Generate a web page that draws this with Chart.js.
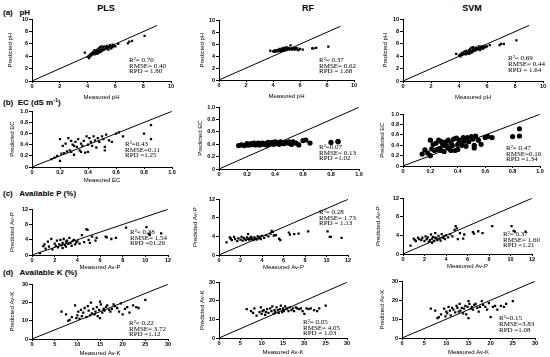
<!DOCTYPE html>
<html>
<head>
<meta charset="utf-8">
<script src="https://cdn.jsdelivr.net/npm/chart.js@4.4.0/dist/chart.umd.min.js"></script>
<style>
  body { margin: 0; width: 550px; height: 357px; background: #fff; position: relative; overflow: hidden; font-family: "Liberation Sans", Arial, sans-serif; }
  canvas { position: absolute; }
  .t { position: absolute; white-space: nowrap; color: #000; }
  .col { font-weight: bold; font-size: 9px; transform: translate(-50%, -50%); }
  .row { font-weight: bold; font-size: 8px; transform: translateY(-50%); }
  .st { font-family: "Liberation Serif", "Times New Roman", serif; font-size: 7px; line-height: 7px; transform: translateY(-50%); }
</style>
</head>
<body>
<script>
// measured values (same samples for every model in a row)
const measuredPH = [3.8, 4.0, 4.1, 4.1, 4.2, 4.2, 4.3, 4.3, 4.4, 4.4, 4.5, 4.5, 4.5, 4.6, 4.6, 4.7, 4.7, 4.7, 4.8, 4.8, 4.8, 4.9, 4.9, 4.9, 5.0, 5.0, 5.0, 5.1, 5.1, 5.2, 5.2, 5.3, 5.3, 5.4, 5.4, 5.5, 5.5, 5.6, 5.6, 5.7, 5.7, 5.8, 5.8, 5.9, 6.0, 6.2, 6.9, 7.0, 7.2, 8.1]
const plsPH = [4.6, 3.9, 3.7, 4.1, 4.0, 4.3, 4.2, 4.5, 4.4, 4.7, 4.6, 4.3, 5.0, 4.8, 4.5, 5.1, 4.7, 4.4, 5.3, 4.9, 4.6, 5.5, 5.0, 4.7, 5.2, 4.8, 5.6, 5.0, 5.4, 5.1, 5.6, 5.2, 5.5, 5.3, 5.7, 5.1, 5.5, 5.4, 5.8, 5.3, 5.6, 5.5, 5.9, 5.7, 5.6, 6.0, 6.1, 6.4, 6.5, 7.3]
const rfPH = [4.9, 4.8, 4.7, 4.9, 4.8, 5.0, 4.9, 4.8, 5.1, 4.9, 5.0, 4.8, 5.2, 4.9, 5.1, 5.0, 5.3, 4.9, 5.1, 5.4, 4.9, 5.2, 5.0, 5.3, 5.1, 5.5, 5.0, 5.2, 5.3, 5.1, 5.4, 5.2, 5.8, 5.1, 5.3, 5.2, 5.4, 5.1, 5.3, 5.2, 5.4, 5.1, 5.3, 5.0, 5.2, 5.1, 5.3, 5.3, 5.4, 5.6]
const svmPH = [4.4, 4.1, 4.0, 4.3, 4.2, 4.5, 4.3, 4.6, 4.4, 4.8, 4.6, 4.3, 4.9, 4.7, 4.5, 5.0, 4.6, 4.4, 5.2, 4.8, 4.5, 5.4, 4.9, 4.6, 5.1, 4.8, 5.5, 4.9, 5.3, 5.0, 5.4, 5.1, 5.3, 5.2, 5.6, 5.0, 5.4, 5.3, 5.6, 5.2, 5.5, 5.4, 5.7, 5.5, 5.6, 5.8, 5.8, 6.0, 6.0, 6.6]

const measuredEC = [0.14, 0.16, 0.18, 0.2, 0.2, 0.21, 0.22, 0.23, 0.24, 0.25, 0.26, 0.27, 0.28, 0.28, 0.29, 0.3, 0.3, 0.31, 0.32, 0.33, 0.34, 0.35, 0.35, 0.36, 0.37, 0.38, 0.39, 0.4, 0.4, 0.41, 0.42, 0.43, 0.44, 0.45, 0.46, 0.47, 0.48, 0.5, 0.51, 0.52, 0.52, 0.53, 0.55, 0.57, 0.6, 0.62, 0.65, 0.8, 0.85, 0.85]
const plsEC = [0.14, 0.17, 0.2, 0.5, 0.11, 0.24, 0.38, 0.25, 0.42, 0.28, 0.52, 0.3, 0.47, 0.27, 0.4, 0.38, 0.22, 0.45, 0.36, 0.5, 0.3, 0.42, 0.27, 0.38, 0.47, 0.26, 0.55, 0.4, 0.27, 0.52, 0.45, 0.38, 0.55, 0.48, 0.35, 0.52, 0.45, 0.55, 0.5, 0.3, 0.36, 0.58, 0.48, 0.45, 0.6, 0.62, 0.55, 0.6, 0.75, 0.5]
const rfEC = [0.38, 0.39, 0.38, 0.41, 0.39, 0.4, 0.39, 0.41, 0.4, 0.42, 0.39, 0.41, 0.4, 0.42, 0.39, 0.41, 0.4, 0.42, 0.4, 0.41, 0.39, 0.43, 0.4, 0.42, 0.41, 0.43, 0.4, 0.44, 0.41, 0.43, 0.42, 0.4, 0.44, 0.42, 0.41, 0.43, 0.42, 0.44, 0.41, 0.4, 0.43, 0.44, 0.42, 0.39, 0.46, 0.47, 0.42, 0.43, 0.45, 0.44]
const svmEC = [0.23, 0.31, 0.25, 0.5, 0.2, 0.33, 0.42, 0.3, 0.44, 0.32, 0.5, 0.34, 0.47, 0.3, 0.42, 0.4, 0.28, 0.46, 0.38, 0.5, 0.33, 0.45, 0.3, 0.4, 0.52, 0.3, 0.54, 0.42, 0.32, 0.5, 0.45, 0.4, 0.55, 0.48, 0.38, 0.55, 0.47, 0.57, 0.52, 0.35, 0.4, 0.58, 0.5, 0.42, 0.55, 0.57, 0.55, 0.57, 0.72, 0.58]

const measuredP = [0.7, 1.0, 1.1, 1.2, 1.4, 1.5, 1.7, 1.8, 2.0, 2.1, 2.2, 2.3, 2.4, 2.5, 2.6, 2.7, 2.7, 2.8, 2.9, 3.0, 3.0, 3.1, 3.2, 3.3, 3.4, 3.5, 3.6, 3.7, 3.8, 3.9, 4.0, 4.2, 4.4, 4.6, 4.8, 5.0, 5.1, 5.3, 5.6, 5.7, 6.5, 6.6, 7.0, 7.4, 8.3, 10.1, 10.3, 10.4, 11.4, 4.9]
const plsP = [0.5, 2.3, 2.8, 1.7, 3.5, 2.2, 4.2, 1.5, 3.0, 2.4, 3.8, 2.0, 2.8, 4.0, 2.5, 3.2, 1.8, 4.2, 2.6, 3.5, 2.2, 3.8, 2.9, 4.5, 3.1, 2.4, 3.7, 4.0, 2.8, 3.3, 3.6, 3.0, 5.2, 3.4, 6.8, 4.0, 3.2, 4.8, 3.8, 4.5, 4.8, 4.6, 4.2, 4.5, 7.2, 7.3, 5.6, 5.3, 5.7, 6.6]
const rfP = [2.7, 3.8, 3.5, 3.2, 3.9, 3.4, 3.0, 3.6, 3.3, 3.9, 3.1, 3.7, 3.4, 3.2, 3.8, 3.5, 4.5, 3.3, 3.7, 3.4, 3.9, 3.6, 3.2, 3.8, 3.5, 3.3, 4.0, 3.6, 3.9, 3.4, 4.1, 3.7, 4.3, 4.0, 4.6, 5.0, 4.2, 4.3, 3.5, 3.2, 4.8, 4.4, 4.5, 4.6, 5.1, 5.1, 3.9, 3.9, 3.7, 5.2]
const svmP = [1.8, 3.3, 3.0, 2.8, 3.5, 3.2, 3.0, 3.5, 2.8, 3.8, 3.2, 3.6, 2.6, 3.0, 4.2, 3.3, 2.4, 3.7, 2.8, 3.5, 4.5, 3.4, 3.0, 3.9, 3.3, 2.9, 4.3, 3.5, 3.8, 3.2, 4.0, 3.6, 4.3, 3.8, 5.2, 5.5, 3.2, 4.5, 3.3, 4.2, 4.7, 4.4, 4.9, 4.5, 6.0, 6.0, 5.0, 4.8, 4.8, 6.0]

const measuredK = [6.5, 7.5, 8.0, 8.3, 8.8, 9.5, 9.8, 10.0, 10.2, 10.5, 10.8, 11.0, 11.3, 11.6, 12.0, 12.3, 12.5, 12.8, 13.0, 13.2, 13.5, 13.8, 14.0, 14.3, 14.5, 14.8, 15.0, 15.0, 15.2, 15.5, 15.8, 16.0, 16.3, 16.6, 17.0, 17.3, 17.6, 18.0, 18.3, 18.8, 19.2, 19.6, 20.0, 20.5, 21.0, 21.5, 22.3, 23.0, 23.5, 25.0]
const plsK = [15.0, 13.5, 10.0, 10.5, 12.0, 18.5, 11.5, 13.0, 15.0, 11.0, 16.0, 12.5, 14.5, 17.0, 12.0, 18.0, 15.5, 13.0, 20.0, 14.0, 16.5, 13.5, 15.0, 17.5, 12.5, 16.0, 20.5, 11.5, 19.0, 14.5, 16.5, 15.5, 17.5, 18.5, 16.0, 15.0, 16.5, 19.0, 18.0, 17.0, 15.0, 19.5, 13.5, 16.5, 17.5, 14.5, 18.5, 17.5, 17.0, 21.5]
const rfK = [15.5, 14.5, 13.5, 16.0, 12.0, 14.0, 16.5, 13.0, 14.5, 15.0, 12.5, 14.0, 15.5, 13.5, 16.0, 14.5, 17.0, 13.0, 15.0, 14.0, 16.5, 15.0, 13.5, 15.5, 17.5, 14.0, 16.0, 15.0, 14.5, 17.0, 15.5, 16.0, 14.5, 16.5, 15.0, 16.0, 14.5, 16.5, 16.0, 15.5, 16.0, 14.5, 13.0, 16.0, 15.5, 16.0, 15.0, 14.5, 16.0, 17.5]
const svmK = [15.5, 14.5, 10.5, 11.0, 12.5, 15.5, 11.5, 14.0, 13.0, 16.5, 14.5, 12.0, 16.0, 15.0, 13.5, 17.0, 16.0, 14.0, 18.0, 14.5, 16.0, 13.0, 15.5, 17.0, 12.5, 16.5, 19.5, 10.5, 18.0, 15.5, 16.5, 15.0, 17.5, 18.0, 16.0, 14.0, 16.5, 19.5, 17.5, 16.5, 15.0, 18.5, 11.0, 16.5, 17.0, 15.0, 17.0, 16.5, 18.0, 19.5]

const models = ["PLS", "RF", "SVM"]
const props = ["pH", "EC", "Av-P", "Av-K"]
const rowLabels = ["(a)&nbsp;&nbsp; pH", "(b)&nbsp; EC (dS m<sup style='font-size:5.5px'>-1</sup>)", "(c)&nbsp;&nbsp; Available P (%)", "(d)&nbsp;&nbsp; Available K (%)"]
const axisMax = [10, 1, 12, 30]
const tickStep = [2, 0.2, 2, 5]
const lineEnd = [9, 1, 12, 30]

const measured = [measuredPH, measuredEC, measuredP, measuredK]
const predicted = [
  [plsPH, rfPH, svmPH],
  [plsEC, rfEC, svmEC],
  [plsP, rfP, svmP],
  [plsK, rfK, svmK]
]
const stats = [
  [["R²= 0.70", "RMSE= 0.40", "RPD = 1.80"], ["R²= 0.37", "RMSE= 0.62", "RPD = 1.68"], ["R²= 0.69", "RMSE= 0.44", "RPD = 1.64"]],
  [["R²=0.43", "RMSE=0.11", "RPD =1.25"], ["R²=0.07", "RMSE= 0.13", "RPD =1.02"], ["R²= 0.47", "RMSE=0.10", "RPD =1.34"]],
  [["R²= 0.38", "RMSE= 1.54", "RPD =01.26"], ["R²= 0.28", "RMSE= 1.73", "RPD = 1.13"], ["R²= 0.37", "RMSE= 1.60", "RPD =1.21"]],
  [["R²= 0.22", "RMSE= 3.72", "RPD =1.12"], ["R²= 0.05", "RMSE= 4.05", "RPD = 1.03"], ["R²=0.15", "RMSE=3.83", "RPD =1.08"]]
]

// plot boxes: [axis left, right, top, bottom] in page pixels
const boxes = [
  [[32, 171, 19, 81], [219, 354, 20, 80], [403, 543, 19, 81]],
  [[32, 172, 111, 167], [219, 359, 107, 169], [403, 540, 114, 166]],
  [[32, 168, 209, 255], [219, 348, 199, 255], [403, 532, 198, 254]],
  [[32, 168, 284, 339], [219, 347, 282, 338], [402, 535, 281, 338]]
]
const xAxisH = [20, 17, 16, 18]
const yTitleGap = [[22, 17, 18], [20, 19, 21], [20, 24, 25], [20, 17, 20]]
// stats block: [left, first line y, line gap]
const statPos = [
  [[129, 60, 5.7], [319, 60, 5.7], [508, 58, 6]],
  [[125, 144, 5.6], [319, 147, 5.6], [506, 148, 5.6]],
  [[130, 232, 5.6], [319, 212, 5.6], [503, 234, 5.6]],
  [[129, 323, 5.6], [303, 322, 5.6], [499, 318, 6]]
]
const colX = [106, 308, 472]

function addText(cls, html, x, y) {
  const d = document.createElement("div")
  d.className = "t " + cls
  d.innerHTML = html
  d.style.left = x + "px"
  d.style.top = y + "px"
  document.body.appendChild(d)
}

models.forEach((m, c) => addText("col", m, colX[c], 8))
const rowY = [12, 102, 193, 272]
rowLabels.forEach((l, r) => addText("row", l, 3, rowY[r]))

const tickFont = { size: 5.5, weight: "bold", family: "Liberation Sans" }
const titleFont = { size: 6, family: "Liberation Sans" }

for (let r = 0; r < 4; r++) {
  for (let c = 0; c < 3; c++) {
    const b = boxes[r][c]
    const xh = xAxisH[r]
    const canvas = document.createElement("canvas")
    canvas.width = b[1] - b[0] + 34
    canvas.height = b[3] - b[2] + 4 + xh
    canvas.style.left = (b[0] - 30) + "px"
    canvas.style.top = (b[2] - 4) + "px"
    document.body.appendChild(canvas)

    const big = r === 1 && c > 0
    const xTitle = big ? "" : "Measured " + props[r]
    const points = measured[r].map((v, i) => ({ x: v, y: predicted[r][c][i] }))

    new Chart(canvas, {
      type: "scatter",
      data: {
        datasets: [
          {
            data: points,
            backgroundColor: "#000",
            borderColor: "#000",
            borderWidth: 0,
            pointStyle: big ? "circle" : "rect",
            pointRadius: big ? 2.6 : 1.6
          },
          {
            type: "line",
            data: [{ x: 0, y: 0 }, { x: lineEnd[r], y: lineEnd[r] }],
            borderColor: "#000",
            borderWidth: 1,
            pointRadius: 0,
            fill: false
          }
        ]
      },
      options: {
        responsive: false,
        animation: false,
        devicePixelRatio: 1,
        layout: { autoPadding: false, padding: { left: 0, top: 4, right: 4, bottom: 0 } },
        plugins: { legend: { display: false }, tooltip: { enabled: false } },
        scales: {
          x: {
            type: "linear", min: 0, max: axisMax[r],
            ticks: { stepSize: tickStep[r], font: tickFont, color: "#000", padding: 0, maxRotation: 0 },
            grid: { drawOnChartArea: false, tickLength: 2, color: "#000" },
            border: { color: "#000", width: 1 },
            title: { display: xTitle !== "", text: xTitle, font: titleFont, color: "#000", padding: { top: 0, bottom: 0 } },
            afterFit: s => { s.height = xh }
          },
          y: {
            type: "linear", min: 0, max: axisMax[r],
            ticks: { stepSize: tickStep[r], font: tickFont, color: "#000", padding: 1 },
            grid: { drawOnChartArea: false, tickLength: 3, color: "#000" },
            border: { color: "#000", width: 1 },
            title: { display: true, text: "Predicted " + props[r], font: titleFont, color: "#000", padding: { top: 26.4 - yTitleGap[r][c], bottom: 0 } },
            afterFit: s => { s.width = 30 }
          }
        }
      }
    })

    const sp = statPos[r][c]
    stats[r][c].forEach((line, k) => addText("st", line, sp[0], sp[1] + k * sp[2]))
  }
}
</script>
</body>
</html>
